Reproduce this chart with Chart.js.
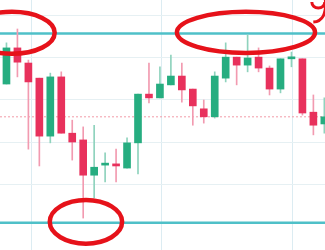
<!DOCTYPE html>
<html>
<head>
<meta charset="utf-8">
<script src="https://cdn.jsdelivr.net/npm/chart.js@4"></script>
<style>
  html, body { margin: 0; padding: 0; background: #fff; }
  #wrap { width: 325px; height: 250px; position: relative; }
</style>
</head>
<body>
<div id="wrap"><canvas id="myChart"></canvas></div>
<script>
// candle data (price units, gridlines every 10)
const opens  = [103.8, 112.4, 108.8, 105.2, 91.4, 105.5, 92.1, 90.5, 82.1, 84.5, 84.8, 83.8, 89.8, 101.4, 100.5,
                103.6, 105.7, 102.6, 97.9, 96.0, 105.2, 110.2, 108.3, 110.2, 107.6, 102.6, 109.8, 109.8, 97.1, 94.3];
const highs  = [113.6, 116.9, 109.5, 105.2, 106.4, 106.7, 95.2, 93.6, 94.0, 87.4, 88.3, 91.0, 101.4, 108.8, 107.9,
                110.7, 108.8, 102.6, 100.0, 106.7, 113.6, 110.2, 115.5, 112.4, 108.1, 109.8, 111.4, 109.8, 101.2, 100.5];
const lows   = [103.8, 105.5, 88.3, 84.3, 89.8, 92.1, 85.7, 71.9, 76.7, 80.5, 80.5, 83.8, 82.4, 99.3, 100.5,
                103.6, 99.5, 94.0, 94.5, 95.7, 104.3, 103.6, 106.7, 106.7, 101.2, 101.7, 107.9, 96.4, 91.7, 92.1];
const closes = [112.4, 109.0, 104.3, 91.4, 105.5, 92.1, 90.0, 82.1, 84.0, 84.8, 84.3, 89.8, 101.4, 100.5, 103.8,
                105.7, 102.4, 98.6, 96.0, 105.7, 110.2, 108.3, 110.0, 107.6, 102.6, 109.8, 110.0, 96.9, 94.0, 96.0];

const yTicks = [80, 90, 100, 110, 120];
const xGridLines = [2.24, 14.1, 26.14];

// level lines
const supportLevel = 70.8;
const resistanceLevel = 115.8;
const midLevel = 96.0;

// red hand-drawn circles: [x index, price, x radius (index), y radius (price)]
const circles = [
    [0.5, 116.0, 3.9, 5.0],
    [21.85, 116.1, 6.3, 4.9],
    [7.25, 71.0, 3.3, 5.2]
];

const green = '#26ad80';
const red = '#e8315c';
const greenWick = '#8fd3bd';
const redWick = '#f29ab0';

const isUp = opens.map((o, i) => closes[i] >= o);

const annotations = {
    id: 'annotations',
    beforeDatasetsDraw(chart) {
        const { ctx, chartArea, scales: { x, y } } = chart;
        ctx.save();
        // red dotted middle line
        ctx.strokeStyle = '#f29aa8';
        ctx.lineWidth = 1;
        ctx.setLineDash([2, 2]);
        ctx.beginPath();
        ctx.moveTo(chartArea.left, y.getPixelForValue(midLevel));
        ctx.lineTo(chartArea.right, y.getPixelForValue(midLevel));
        ctx.stroke();
        ctx.setLineDash([]);
        // cyan levels
        ctx.strokeStyle = '#4fc0c8';
        ctx.lineWidth = 2.5;
        [supportLevel, resistanceLevel].forEach(v => {
            ctx.beginPath();
            ctx.moveTo(chartArea.left, y.getPixelForValue(v));
            ctx.lineTo(chartArea.right, y.getPixelForValue(v));
            ctx.stroke();
        });
        ctx.restore();
    },
    afterDatasetsDraw(chart) {
        const { ctx, scales: { x, y } } = chart;
        const xs = x.getPixelForValue(1) - x.getPixelForValue(0);
        const ys = y.getPixelForValue(0) - y.getPixelForValue(1);
        ctx.save();
        ctx.strokeStyle = '#e6121a';
        ctx.lineWidth = 4.5;
        circles.forEach(c => {
            ctx.beginPath();
            ctx.ellipse(x.getPixelForValue(c[0]), y.getPixelForValue(c[1]), c[2] * xs, c[3] * ys, 0, 0, Math.PI * 2);
            ctx.stroke();
        });
        // scribble in the top right corner
        ctx.lineWidth = 3;
        const cx = x.getPixelForValue(28.45), cy = y.getPixelForValue(123.3);
        ctx.beginPath();
        ctx.ellipse(cx, cy, 6.5, 6, 0, 0, Math.PI);
        ctx.stroke();
        ctx.beginPath();
        ctx.moveTo(cx + 7, cy - 3);
        ctx.quadraticCurveTo(cx + 9, cy + 19, cx - 5, cy + 20);
        ctx.stroke();
        ctx.restore();
    }
};

const ctx = document.getElementById('myChart').getContext('2d');
new Chart(ctx, {
    type: 'bar',
    data: {
        datasets: [{
            label: 'bodies',
            data: opens.map((o, i) => ({ x: i, y: [o, closes[i]] })),
            backgroundColor: isUp.map(u => u ? green : red),
            barThickness: 7,
            minBarLength: 2,
            grouped: false,
            order: 1
        }, {
            label: 'wicks',
            data: highs.map((h, i) => ({ x: i, y: [lows[i], h] })),
            backgroundColor: isUp.map(u => u ? greenWick : redWick),
            barThickness: 1,
            grouped: false,
            order: 2
        }]
    },
    options: {
        responsive: true,
        maintainAspectRatio: false,
        animation: false,
        layout: { padding: 0 },
        plugins: { legend: { display: false }, tooltip: { enabled: false } },
        scales: {
            x: {
                type: 'linear',
                offset: false,
                min: -0.59,
                max: 29.06,
                afterBuildTicks: scale => { scale.ticks = xGridLines.map(v => ({ value: v })); },
                ticks: { display: false },
                grid: { color: '#dcecf2', drawTicks: false, offset: false },
                border: { display: false }
            },
            y: {
                min: 64.3,
                max: 123.8,
                afterBuildTicks: scale => { scale.ticks = yTicks.map(v => ({ value: v })); },
                ticks: { display: false },
                grid: { color: '#e6f0f3', drawTicks: false },
                border: { display: false }
            }
        }
    },
    plugins: [annotations]
});
</script>
</body>
</html>
